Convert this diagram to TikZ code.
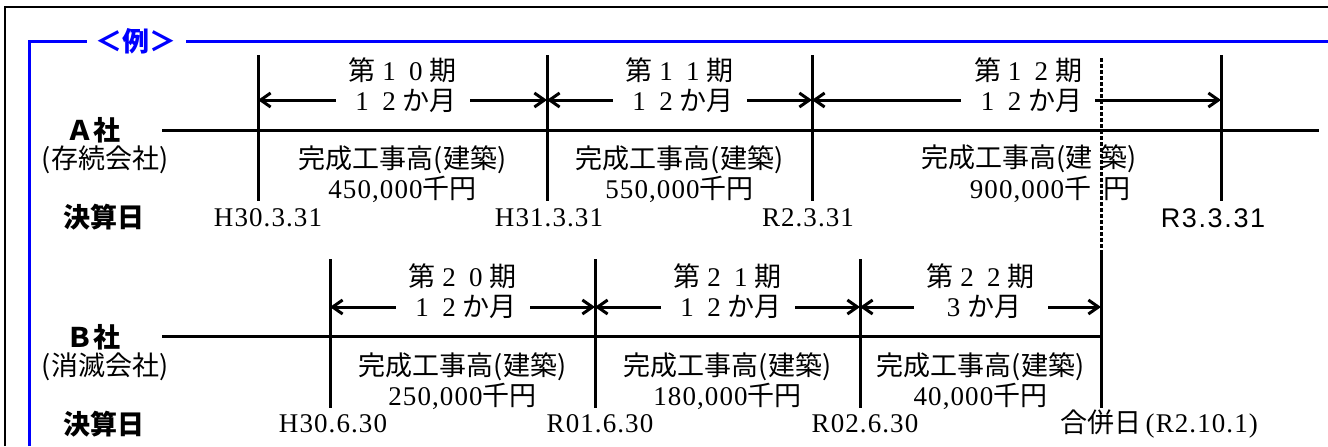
\documentclass[tikz,border=0pt]{standalone}
\usepackage{fontspec}
\setmainfont{Liberation Serif}
\newfontfamily\jpfont{Noto Sans CJK JP}
\newfontfamily\numfont[LetterSpace=4]{Liberation Serif}
\newfontfamily\gothfont[LetterSpace=6]{Liberation Sans}
\usetikzlibrary{arrows.meta,positioning}
\newcommand\fsz{\fontsize{13.5}{15}\selectfont}
\newcommand\zen[1]{\makebox[1em]{\numfont #1}}
\newcommand\amount[1]{{\numfont #1}千円}
\tikzset{
    %Define standard arrow tip
    >={Straight Barb[length=5pt,width=7pt]},
    %Define style for frames
    frame/.style={line width=1pt, draw=black},
    bluebox/.style={line width=1.5pt, draw=blue},
    tag/.style={
           fill=white,
           inner xsep=4.5pt,
           inner ysep=0pt,
           text=blue,
           font=\jpfont\fsz\bfseries},
    %Define style for time lines
    axis/.style={line width=1.5pt},
    tick/.style={line width=1.5pt},
    merge/.style={line width=1.5pt, dash pattern=on 2pt off 1pt},
    span/.style={<->, line width=1.5pt},
    %Define style for labels
    term/.style={
           fill=white,
           inner xsep=6.5pt,
           inner ysep=0pt,
           align=center,
           font=\jpfont\fsz},
    sales/.style={
           inner sep=0pt,
           align=center,
           font=\jpfont\fsz},
    date/.style={
           inner sep=0pt,
           font=\numfont\fsz},
    firm/.style={
           inner sep=0pt,
           align=center,
           font=\jpfont\fsz},
}
\begin{document}
\begin{tikzpicture}[x=0.5pt,y=-0.5pt]
\useasboundingbox (0,0) rectangle (1328,446);
% frames
\coordinate (fb) at (5,446);
\coordinate (ft) at (5,7);
\coordinate (fr) at (1328,7);
\draw[frame] (fb) -- (ft) -- (fr);
\coordinate (bb) at (29,446);
\coordinate (bt) at (29,41);
\coordinate (br) at (1328,41);
\draw[bluebox] (bb) -- (bt) -- (br);
\node[tag](tag) at (136,41){＜例＞};

% company A
\coordinate (aL) at (162,130);
\coordinate (aR) at (1319,130);
\draw[axis] (aL) -- (aR);
\foreach \n/\x in {a0/258,a1/547,a2/812,a3/1221}{
  \coordinate (t\n) at (\x,55);
  \coordinate (m\n) at (\x,100);
  \coordinate (b\n) at (\x,201);
  \draw[tick] (t\n) -- (b\n);
}
\path[span] (ma0) edge (ma1) (ma1) edge (ma2) (ma2) edge (ma3);
\node[term](pa10) at (402.5,85){第\zen{1}\zen{0}期\\\zen{1}\zen{2}か月};
\node[term](pa11) at (679.5,85){第\zen{1}\zen{1}期\\\zen{1}\zen{2}か月};
\node[term](pa12) at (1028,85){第\zen{1}\zen{2}期\\\zen{1}\zen{2}か月};
\node[sales](sa10) at (402.5,174){完成工事高(建築)\\\amount{450,000}};
\node[sales](sa11) at (679.5,174){完成工事高(建築)\\\amount{550,000}};
\node[sales](sa12) at (1029,159){完成工事高(建\hspace{4pt}築)};
\node[sales](sa12b) at (1050,189){{\numfont 900,000}千\hspace{6pt}円};
\node[date](da0) at (268,218){H30.3.31};
\node[date](da1) at (549,218){H31.3.31};
\node[date](da2) at (808,218){R2.3.31};
\node[date,font=\gothfont\fsz](da3) at (1213,218){R3.3.31};
\node[firm,font=\jpfont\fsz\bfseries](fa) at (93,130){Ａ社};
\node[firm](fa2) at (105,160){(存続会社)};
\node[firm,font=\jpfont\fsz\bfseries](ka) at (104,217){決算日};

% company B
\coordinate (bL) at (162,336);
\coordinate (bR) at (1101,336);
\draw[axis] (bL) -- (bR);
\foreach \n/\x in {b0/330,b1/595,b2/860}{
  \coordinate (t\n) at (\x,259);
  \coordinate (m\n) at (\x,307);
  \coordinate (b\n) at (\x,408);
  \draw[tick] (t\n) -- (b\n);
}
\coordinate (dt) at (1101,58);
\coordinate (tb3) at (1101,252);
\coordinate (mb3) at (1101,307);
\coordinate (bb3) at (1101,408);
\draw[tick] (tb3) -- (bb3);
\path[span] (mb0) edge (mb1) (mb1) edge (mb2) (mb2) edge (mb3);
\node[term](pb20) at (462.5,291){第\zen{2}\zen{0}期\\\zen{1}\zen{2}か月};
\node[term](pb21) at (727.5,291){第\zen{2}\zen{1}期\\\zen{1}\zen{2}か月};
\node[term](pb22) at (980.5,291){第\zen{2}\zen{2}期\\\zen{3}か月};
\node[sales](sb20) at (462.5,381){完成工事高(建築)\\\amount{250,000}};
\node[sales](sb21) at (727.5,381){完成工事高(建築)\\\amount{180,000}};
\node[sales](sb22) at (980.5,381){完成工事高(建築)\\\amount{40,000}};
\node[date](db0) at (333,424){H30.6.30};
\node[date](db1) at (600,424){R01.6.30};
\node[date](db2) at (865,424){R02.6.30};
\node[date](db3) at (1159,424){{\jpfont 合併日}\,(R2.10.1)};
\node[firm,font=\jpfont\fsz\bfseries](fb2) at (93,337){Ｂ社};
\node[firm](fb3) at (105,367){(消滅会社)};
\node[firm,font=\jpfont\fsz\bfseries](kb) at (104,424){決算日};

% merger date
\draw[merge] (dt) -- (tb3);
\end{tikzpicture}
\end{document}
